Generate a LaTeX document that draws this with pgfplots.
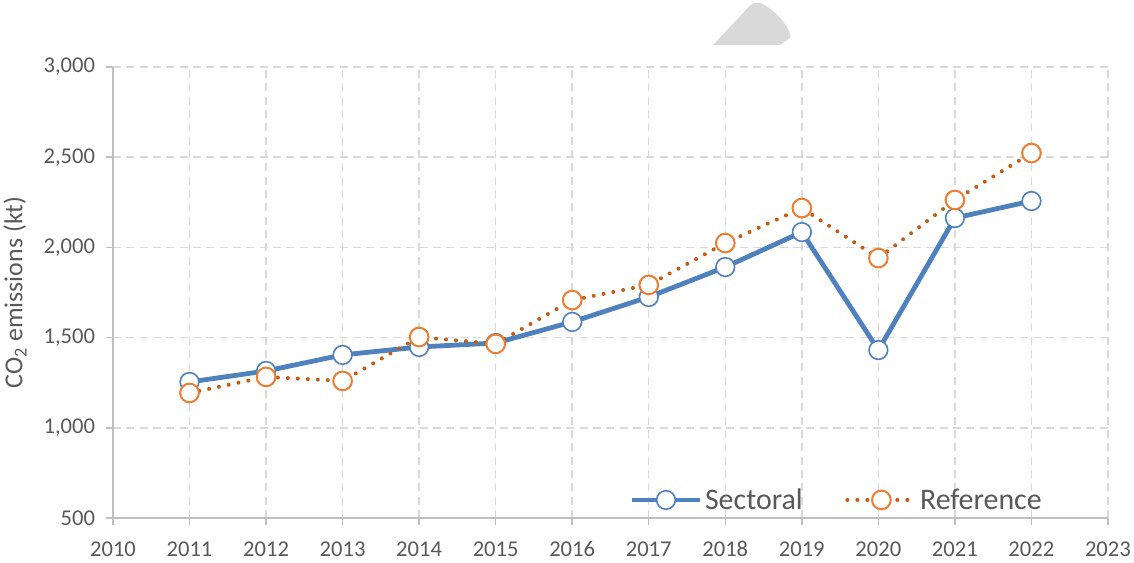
\documentclass[border=0pt]{standalone}
\usepackage{pgfplots}
\pgfplotsset{compat=1.18}
\usepackage{fontspec}
\setmainfont{Carlito}
\definecolor{sect}{HTML}{4F81BD}
\definecolor{refl}{HTML}{C55A11}
\definecolor{refm}{HTML}{ED7D31}
\definecolor{gridc}{HTML}{D9D9D9}
\definecolor{axc}{HTML}{BFBFBF}
\definecolor{txt}{HTML}{595959}
\begin{document}
\begin{tikzpicture}
\begin{axis}[
  scale only axis,
  width=746.25bp, height=338.25bp,
  xmin=2010, xmax=2023, ymin=500, ymax=3000,
  xtick={2010,...,2023},
  ytick={500,1000,...,3000},
  axis x line*=bottom, axis y line*=left,
  axis line style={draw=axc, line width=1.2bp},
  grid=major,
  major grid style={draw=gridc, line width=1.1bp, dash pattern=on 6bp off 4bp},
  tick align=outside,
  major tick length=5bp,
  tick style={draw=axc, line width=1.1bp},
  /pgf/number format/assume math mode=true,
  xticklabel style={/pgf/number format/1000 sep={}, font=\fontsize{17}{20}\selectfont, text=txt, yshift=-8bp, text height=12bp, text depth=0bp},
  yticklabel style={/pgf/number format/1000 sep={,}, font=\fontsize{17}{20}\selectfont, text=txt, xshift=-5bp},
  ylabel={CO\textsubscript{2} emissions (kt)},
  every axis y label/.style={at={(axis description cs:-0.0985,0.5)}, rotate=90, anchor=center, font=\fontsize{19.5}{23}\selectfont, text=txt},
  legend columns=2,
  legend style={draw=none, fill=none, at={(axis description cs:0.7276,0.04)}, anchor=center,
    font=\fontsize{22.5}{26}\selectfont, text=txt,
    /tikz/every even column/.append style={column sep=30bp}},
  legend image code/.code={\draw[mark repeat=2,mark phase=2,#1] plot coordinates {(0bp,0bp) (25.5bp,0bp) (51bp,0bp)};},
  clip=false,
]
\addplot[sect, line width=3.6bp, mark=*, mark size=7bp,
  mark options={fill=white, draw=sect, line width=1.2bp, solid}]
  coordinates {(2011,1254) (2012,1315) (2013,1404) (2014,1448) (2015,1470) (2016,1587)
  (2017,1725) (2018,1891) (2019,2085) (2020,1431) (2021,2163) (2022,2257)};
\addlegendentry{Sectoral}
\addplot[refl, line width=3bp, line cap=round, dash pattern=on 0bp off 7.5bp, mark=*, mark size=7bp,
  mark options={fill=white, draw=refm, line width=1.5bp, solid}]
  coordinates {(2011,1193) (2012,1282) (2013,1260) (2014,1503) (2015,1465) (2016,1708)
  (2017,1792) (2018,2024) (2019,2218) (2020,1941) (2021,2263) (2022,2523)};
\addlegendentry{Reference}
\end{axis}
\fill[gridc] (450bp,354.75bp) -- (478bp,384.5bp) .. controls (481bp,387.5bp) and (486bp,387bp) .. (490bp,384bp) .. controls (500bp,377bp) and (509bp,366bp) .. (507.75bp,360bp) -- (500.25bp,354.75bp) -- cycle;
\pgfresetboundingbox
\path[use as bounding box] (-84.75bp,-33.75bp) rectangle (765.75bp,388.5bp);
\end{tikzpicture}
\end{document}
